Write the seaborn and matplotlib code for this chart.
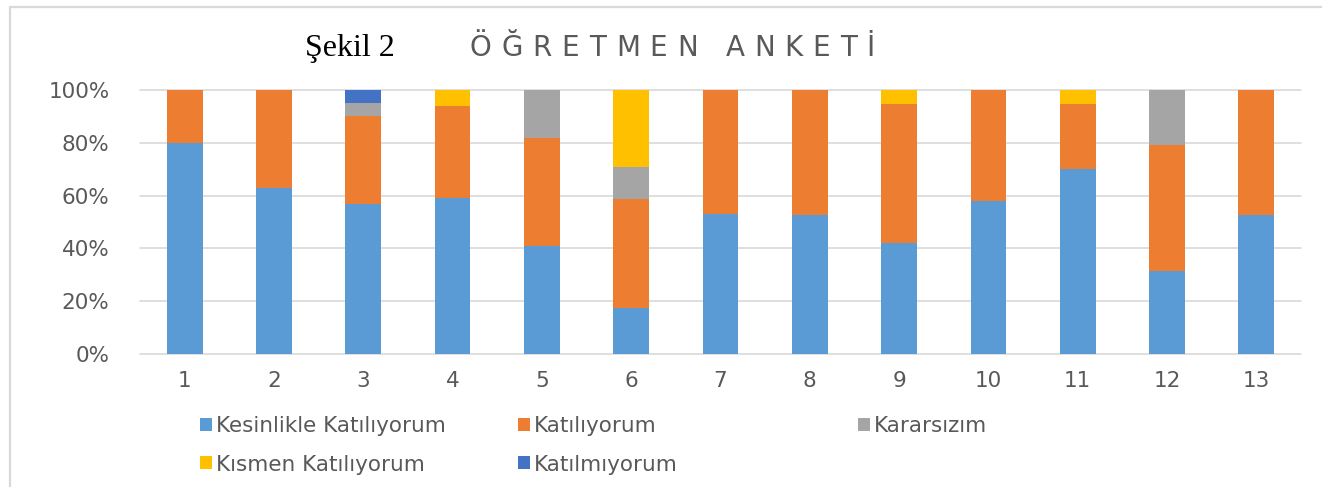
import pandas as pd
import matplotlib.pyplot as plt
import seaborn as sns
from matplotlib.patches import Patch
from matplotlib.lines import Line2D

# Survey results (percent of answers), one list per answer
questions = list(range(1, 14))
kesinlikle = [80, 63, 57, 59, 41, 17.5, 53, 52.6, 42, 58, 70, 31.5, 52.6]
katiliyorum = [20, 37, 33, 35, 41, 41.2, 47, 47.4, 52.7, 42, 24.7, 47.5, 47.4]
kararsizim = [0, 0, 5, 0, 18, 12, 0, 0, 0, 0, 0, 21, 0]
kismen = [0, 0, 0, 6, 0, 29.3, 0, 0, 5.3, 0, 5.3, 0, 0]
katilmiyorum = [0, 0, 5, 0, 0, 0, 0, 0, 0, 0, 0, 0, 0]

series = ["Kesinlikle Katılıyorum", "Katılıyorum", "Kararsızım",
          "Kısmen Katılıyorum", "Katılmıyorum"]
colors = ["#5B9BD5", "#ED7D31", "#A5A5A5", "#FFC000", "#4472C4"]
palette = dict(zip(series, colors))

rows = []
for name, vals in zip(series, [kesinlikle, katiliyorum, kararsizim, kismen, katilmiyorum]):
    for q, v in zip(questions, vals):
        rows.append({"soru": q, "cevap": name, "yuzde": v})
df = pd.DataFrame(rows)

sns.set_style("white")
plt.rcParams["font.family"] = ["DejaVu Sans"]
gray_txt = "#595959"
grid_c = "#D9D9D9"

W, H = 1322, 487
fig = plt.figure(figsize=(W / 100, H / 100), dpi=100)
ax = fig.add_axes([140 / W, 1 - 354 / H, (1301 - 140) / W, (354 - 90) / H])

# seaborn stacks the last hue level at the bottom, so reverse the order
sns.histplot(data=df, x="soru", weights="yuzde", hue="cevap",
             hue_order=series[::-1], palette=palette, multiple="stack",
             discrete=True, shrink=0.4, linewidth=0, alpha=1,
             legend=False, ax=ax)

ax.set_xlim(0.5, 13.5)
ax.set_ylim(0, 100)
ax.set_xticks(questions)
ax.set_xticklabels([str(q) for q in questions])
ax.set_yticks(range(0, 101, 20))
ax.set_yticklabels([f"{v}%" for v in range(0, 101, 20)])
ax.set_xlabel("")
ax.set_ylabel("")
ax.yaxis.grid(True, color=grid_c, linewidth=1.2)
ax.set_axisbelow(True)
for l in ax.get_ygridlines():
    l.set_clip_on(False)
for s in ax.spines.values():
    s.set_visible(False)
ax.tick_params(axis="both", length=0, labelsize=15.5, colors=gray_txt)
ax.tick_params(axis="y", pad=22)
ax.tick_params(axis="x", pad=12)

# legend: three columns placed like the Excel legend
cols = [
    (200, ["Kesinlikle Katılıyorum", "Kısmen Katılıyorum"]),
    (518, ["Katılıyorum", "Katılmıyorum"]),
    (858, ["Kararsızım"]),
]
for x0, names in cols:
    handles = [Patch(facecolor=palette[n], edgecolor="none") for n in names]
    fig.legend(handles, names, loc="upper left",
               bbox_to_anchor=(x0 / W, 1 - 416 / H), frameon=False,
               borderpad=0, borderaxespad=0, fontsize=15.5,
               handlelength=0.55, handleheight=0.55, handletextpad=0.2,
               labelspacing=0.86, labelcolor=gray_txt)

# chart title with wide letter spacing
fig.text(305 / W, 1 - 56 / H, "Şekil 2", fontsize=23, color="black",
         family="Liberation Serif", va="baseline", ha="left")

title = "ÖĞRETMEN ANKETİ"
r = fig.canvas.get_renderer()
tsize = 20
widths = []
for ch in title:
    if ch == " ":
        a = fig.text(0, 0, "A A", fontsize=tsize)
        b = fig.text(0, 0, "AA", fontsize=tsize)
        w = a.get_window_extent(r).width - b.get_window_extent(r).width
        a.remove()
        b.remove()
    else:
        t = fig.text(0, 0, ch, fontsize=tsize)
        w = t.get_window_extent(r).width
        t.remove()
    widths.append(w)
x_start, x_end = 470, 875
gap = (x_end - x_start - sum(widths)) / (len(title) - 1)
x = x_start
for ch, w in zip(title, widths):
    if ch != " ":
        fig.text(x / W, 1 - 56 / H, ch, fontsize=tsize, color=gray_txt,
                 va="baseline", ha="left")
    x += w + gap

# chart area border (top and left edges visible)
fig.add_artist(Line2D([10 / W, 1], [1 - 7 / H, 1 - 7 / H], color=grid_c, lw=1.6))
fig.add_artist(Line2D([10 / W, 10 / W], [0, 1 - 7 / H], color=grid_c, lw=1.6))

fig.savefig("out.png", dpi=100)
